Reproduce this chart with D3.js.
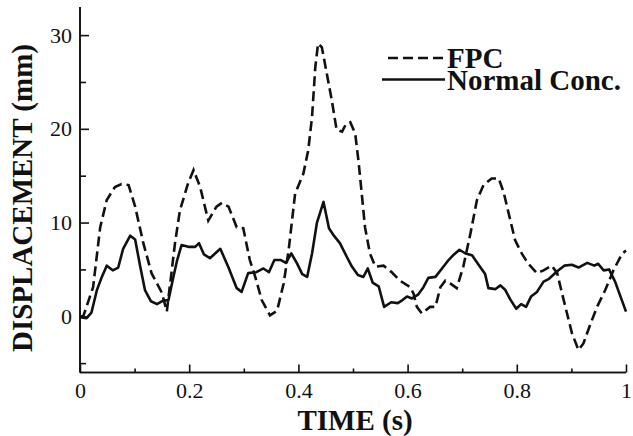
<!DOCTYPE html>
<html>
<head>
<meta charset="utf-8">
<script src="https://cdn.jsdelivr.net/npm/d3@7"></script>
<style>
	body { margin: 0; background: #fff; }
	svg text { font-family: 'Liberation Serif', 'Times New Roman', serif; fill: #111; }
	.tick text { font-size: 22px; }
	.axis path, .axis line { stroke: #111; stroke-width: 1.6; }
	.label { font-size: 29px; font-weight: bold; }
</style>
</head>
<body>
<div id="chart"></div>
<script>
// time (s), displacement (mm)
var fpcPoints = [
	[0, 0], [0.006, 0], [0.024, 3.1], [0.037, 9.5], [0.049, 12.4], [0.064, 13.8], [0.076, 14.1],
	[0.089, 14.0], [0.101, 11.7], [0.116, 7.8], [0.131, 4.6], [0.150, 2.5], [0.159, 0.5], [0.174, 7.8],
	[0.183, 11.3], [0.198, 14.2], [0.208, 15.6], [0.220, 13.8], [0.235, 10.2], [0.250, 11.7], [0.260, 12.1],
	[0.272, 11.7], [0.287, 9.5], [0.299, 9.4], [0.311, 6.0], [0.321, 4.2], [0.333, 1.7], [0.348, 0.1],
	[0.361, 0.6], [0.373, 3.5], [0.382, 7.0], [0.394, 13.1], [0.409, 15.2], [0.418, 17.7], [0.425, 21.3],
	[0.431, 26.6], [0.436, 29.1], [0.443, 28.7], [0.452, 25.9], [0.461, 23.1], [0.470, 19.9], [0.480, 19.7],
	[0.487, 20.5], [0.495, 20.7], [0.504, 19.5], [0.510, 16.6], [0.516, 13.1], [0.522, 9.5], [0.531, 6.7],
	[0.541, 5.3], [0.556, 5.4], [0.571, 4.7], [0.586, 3.8], [0.605, 3.1], [0.611, 2.4], [0.617, 1.0],
	[0.626, 0.3], [0.641, 1.0], [0.651, 1.0], [0.660, 3.1], [0.669, 3.8], [0.678, 3.5], [0.690, 3.0],
	[0.702, 5.3], [0.715, 8.8], [0.727, 12.4], [0.739, 14.0], [0.754, 14.7], [0.767, 14.7], [0.776, 13.2],
	[0.785, 11.0], [0.797, 8.1], [0.809, 6.7], [0.821, 5.6], [0.837, 4.6], [0.849, 4.9], [0.864, 5.4],
	[0.874, 4.6], [0.883, 2.4], [0.892, 0.3], [0.901, -1.8], [0.913, -3.6], [0.922, -2.9], [0.935, -0.8],
	[0.947, 1.0], [0.962, 2.8], [0.977, 4.9], [0.993, 6.7], [1.0, 7.0]
];

var normalPoints = [
	[0, -0.1], [0.012, -0.2], [0.021, 0.4], [0.031, 2.8], [0.040, 4.2], [0.049, 5.4], [0.060, 4.9],
	[0.070, 5.2], [0.079, 7.2], [0.092, 8.6], [0.101, 8.2], [0.110, 5.4], [0.119, 2.8], [0.130, 1.6],
	[0.141, 1.3], [0.153, 1.7], [0.162, 1.7], [0.171, 4.2], [0.178, 6.0], [0.186, 7.6], [0.200, 7.4],
	[0.211, 7.4], [0.218, 7.8], [0.227, 6.6], [0.238, 6.2], [0.257, 7.2], [0.272, 5.2], [0.287, 3.0],
	[0.296, 2.6], [0.308, 4.6], [0.323, 4.7], [0.336, 5.1], [0.346, 4.7], [0.356, 6.0], [0.368, 6.0],
	[0.377, 5.7], [0.387, 6.7], [0.397, 5.7], [0.407, 4.5], [0.416, 4.2], [0.425, 6.7], [0.434, 10.0],
	[0.446, 12.2], [0.456, 9.4], [0.465, 8.6], [0.476, 7.8], [0.489, 6.3], [0.498, 5.3], [0.509, 4.4],
	[0.519, 4.2], [0.527, 5.1], [0.536, 3.6], [0.547, 3.2], [0.557, 1.0], [0.570, 1.5], [0.582, 1.4],
	[0.590, 1.7], [0.599, 2.1], [0.608, 1.9], [0.619, 2.3], [0.629, 3.1], [0.638, 4.1], [0.651, 4.2],
	[0.663, 5.1], [0.675, 6.0], [0.685, 6.6], [0.695, 7.1], [0.706, 6.7], [0.718, 6.5], [0.730, 5.5],
	[0.742, 4.5], [0.748, 3.0], [0.761, 2.9], [0.770, 3.3], [0.779, 2.8], [0.788, 1.8], [0.799, 0.8],
	[0.808, 1.3], [0.817, 1.0], [0.826, 2.1], [0.837, 2.6], [0.849, 3.7], [0.859, 4.0], [0.874, 4.8],
	[0.887, 5.4], [0.901, 5.5], [0.913, 5.2], [0.929, 5.7], [0.942, 5.4], [0.949, 5.6], [0.959, 4.9],
	[0.969, 5.0], [0.980, 3.7], [0.990, 2.1], [1.0, 0.5]
];

var xTicks = [0, 0.2, 0.4, 0.6, 0.8, 1];
var xTickLabels = ['0', '0.2', '0.4', '0.6', '0.8', '1'];
var xMinorTicks = [0.1, 0.3, 0.5, 0.7, 0.9];
var yTicks = [0, 10, 20, 30];
var yTickLabels = ['0', '10', '20', '30'];
var yMinorTicks = [-5, 5, 15, 25];
var legendLabels = ['FPC', 'Normal Conc.'];

var width = 633, height = 436;

var svg = d3.select('#chart').append('svg')
	.attr('width', width)
	.attr('height', height);

var x = d3.scaleLinear().domain([0, 1]).range([80, 626]);
var y = d3.scaleLinear().domain([-6, 33]).range([372.5, 7]);

// axes (ticks point inward, no top/right frame)
svg.append('g').attr('class', 'axis')
	.attr('transform', 'translate(0,' + y(-6) + ')')
	.call(d3.axisBottom(x).tickValues(xTicks).tickSize(-8).tickPadding(10)
		.tickFormat(function (d, i) { return xTickLabels[i]; }));
svg.append('g').attr('class', 'axis')
	.attr('transform', 'translate(0,' + y(-6) + ')')
	.call(d3.axisBottom(x).tickValues(xMinorTicks).tickSize(-4).tickFormat(''));

svg.append('g').attr('class', 'axis')
	.attr('transform', 'translate(' + x(0) + ',0)')
	.call(d3.axisLeft(y).tickValues(yTicks).tickSize(-9).tickPadding(8)
		.tickFormat(function (d, i) { return yTickLabels[i]; }));
svg.append('g').attr('class', 'axis')
	.attr('transform', 'translate(' + x(0) + ',0)')
	.call(d3.axisLeft(y).tickValues(yMinorTicks).tickSize(-6).tickFormat(''));

svg.selectAll('.axis .domain').attr('d', function () {
	return d3.select(this.parentNode).attr('transform').indexOf('translate(0') === 0
		? 'M' + x(0) + ',0H' + x(1)
		: 'M0,' + y(33) + 'V' + y(-6);
});

var line = d3.line()
	.x(function (d) { return x(d[0]); })
	.y(function (d) { return y(d[1]); });

svg.append('path')
	.datum(normalPoints)
	.attr('d', line)
	.attr('fill', 'none')
	.attr('stroke', '#111')
	.attr('stroke-width', 2.6)
	.attr('stroke-linejoin', 'round');

svg.append('path')
	.datum(fpcPoints)
	.attr('d', line)
	.attr('fill', 'none')
	.attr('stroke', '#111')
	.attr('stroke-width', 2.6)
	.attr('stroke-dasharray', '10,5');

// legend
var legend = svg.append('g').selectAll('g')
	.data(legendLabels)
	.enter().append('g')
	.attr('transform', function (d, i) { return 'translate(447,' + (58 + i * 21.5) + ')'; });

legend.append('line')
	.attr('x1', function (d, i) { return i === 0 ? -59 : -65; })
	.attr('x2', -2)
	.attr('stroke', '#111')
	.attr('stroke-width', 2.6)
	.attr('stroke-dasharray', function (d, i) { return i === 0 ? '10,5' : null; });

legend.append('text')
	.attr('class', 'label')
	.attr('y', 10)
	.text(function (d) { return d; });

// axis titles
svg.append('text')
	.attr('class', 'label')
	.attr('text-anchor', 'middle')
	.attr('x', x(0.5) + 2)
	.attr('y', 430)
	.text('TIME (s)');

svg.append('text')
	.attr('class', 'label')
	.attr('text-anchor', 'middle')
	.attr('transform', 'translate(32,198) rotate(-90)')
	.text('DISPLACEMENT (mm)');
</script>
</body>
</html>
